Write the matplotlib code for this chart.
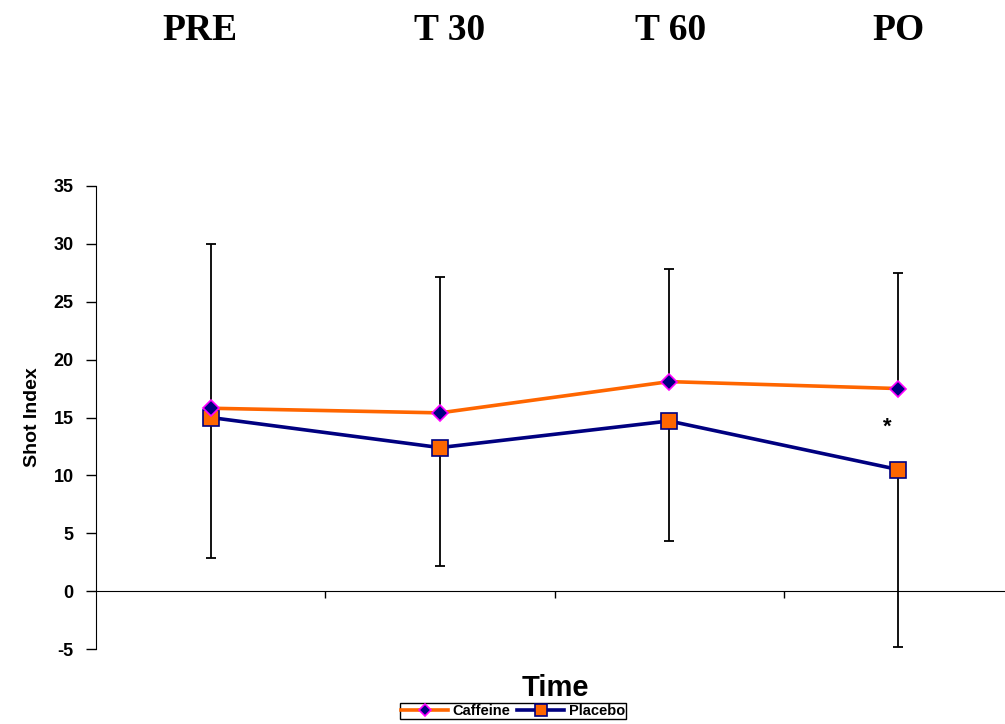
import matplotlib.pyplot as plt
import numpy as np

# values
phases = ["PRE", "T 30", "T 60", "PO"]
caffeine = [15.8, 15.4, 18.1, 17.5]
placebo = [15.0, 12.4, 14.7, 10.5]
caffeine_err_up = [14.2, 11.7, 9.7, 10.0]
placebo_err_down = [12.1, 10.2, 10.4, 15.3]
y_ticks = [-5, 0, 5, 10, 15, 20, 25, 30, 35]
star_value = 14.2

ORANGE = "#FF6600"
NAVY = "#000080"
MAGENTA = "#FF00FF"

W, H = 1005, 724

plt.rcParams["font.family"] = ["Liberation Sans", "DejaVu Sans"]

fig = plt.figure(figsize=(W / 100, H / 100), dpi=100)
ax = fig.add_axes([96 / W, 1 - 649 / H, (1013 - 96) / W, (649 - 186) / H])

x = np.arange(len(phases))

# error bars: caffeine upward, placebo downward
ax.errorbar(x, caffeine, yerr=[np.zeros(len(x)), caffeine_err_up], fmt="none",
            ecolor="black", elinewidth=1.3, capsize=3.5, capthick=1.3, zorder=2)
ax.errorbar(x, placebo, yerr=[placebo_err_down, np.zeros(len(x))], fmt="none",
            ecolor="black", elinewidth=1.3, capsize=3.5, capthick=1.3, zorder=2)

ax.plot(x, caffeine, color=ORANGE, lw=2.6, marker="D", ms=8,
        mfc=NAVY, mec=MAGENTA, mew=1.2, label="Caffeine", zorder=4)
ax.plot(x, placebo, color=NAVY, lw=2.6, marker="s", ms=11,
        mfc=ORANGE, mec=NAVY, mew=1.2, label="Placebo", zorder=3)

ax.text(x[-1] - 0.05, star_value, "*", ha="center", va="center",
        fontsize=16, fontweight="bold")

ax.set_xlim(-0.5, len(phases) - 0.5)
ax.set_ylim(y_ticks[0], y_ticks[-1])
ax.set_yticks(y_ticks)
ax.set_yticklabels([str(v) for v in y_ticks], fontsize=13, fontweight="bold")
ax.tick_params(axis="y", direction="out", length=7, width=1, pad=9)

# category axis crosses at zero, ticks between categories
ax.spines["bottom"].set_position(("data", 0))
ax.spines["top"].set_visible(False)
ax.spines["right"].set_visible(False)
ax.set_xticks(x[:-1] + 0.5)
ax.set_xticklabels([])
ax.tick_params(axis="x", direction="out", length=5, width=1)
ax.set_ylabel("Shot Index", fontsize=14, fontweight="bold", labelpad=9)

# phase headings across the top (pixel centres as in the reference)
head_x = [200, 450, 671, 898]
for px, name in zip(head_x, phases):
    fig.text(px / W, 1 - 26 / H, name, ha="center", va="center_baseline",
             fontsize=27, fontweight="bold",
             family=["Liberation Serif", "DejaVu Serif"])

fig.text(555 / W, 1 - 688 / H, "Time", ha="center", va="center",
         fontsize=21, fontweight="bold")

leg = fig.legend(loc="center", bbox_to_anchor=(513 / W, 1 - 711 / H), ncol=2,
                 frameon=True, fancybox=False, edgecolor="black", framealpha=1,
                 prop={"size": 10.5, "weight": "bold"}, handlelength=3.2,
                 handletextpad=0.3, columnspacing=0.5, borderpad=0.1,
                 borderaxespad=0, markerscale=0.8)
leg.get_frame().set_linewidth(1.0)

fig.savefig("out.png", dpi=100)
